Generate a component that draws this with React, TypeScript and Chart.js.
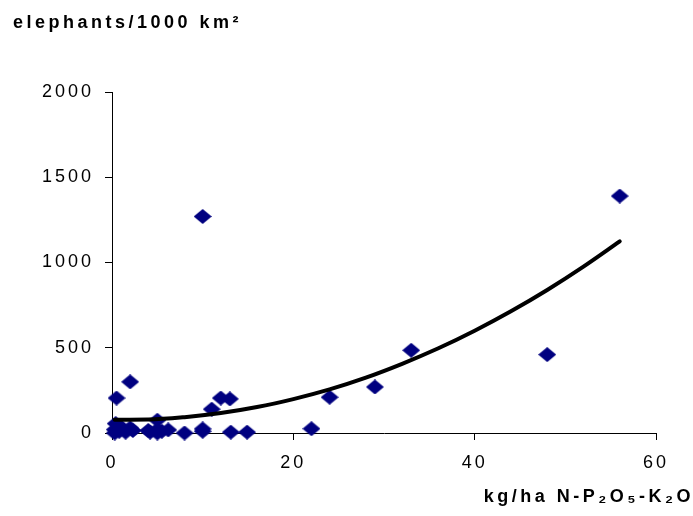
import React, { useEffect, useRef } from 'react';
import { Chart, registerables } from 'chart.js';

Chart.register(...registerables);

// ---- data ----
const xTickValues = [0, 20, 40, 60];
const yTickValues = [0, 500, 1000, 1500, 2000];

// fertilizer use (kg/ha N-P2O5-K2O)
const fertilizer = [
  0.3, 0.3, 0.4, 0.8, 1.0, 1.5, 2.0, 2.3,
  4.0, 4.2, 5.0, 5.0, 5.5, 6.2, 5.0,
  8.0, 10.0, 10.0, 13.1, 14.9,
  0.5, 2.0, 11.0, 12.0, 13.0,
  10.0, 22.0, 24.0, 29.0, 33.0, 48.0, 56.0,
];
// elephant density (elephants/1000 km2)
const elephants = [
  0, 20, 55, 10, 35, 5, 30, 15,
  15, 5, 0, 20, 10, 18, 75,
  0, 10, 24, 5, 5,
  205, 300, 140, 205, 200,
  1270, 25, 210, 270, 485, 460, 1390,
];

// trend curve
const trendX = [0.3, 4, 8, 12, 16, 20, 24, 28, 32, 36, 40, 44, 48, 52, 56];
const trendY = [78, 79, 93, 117, 152, 199, 256, 325, 406, 497, 600, 714, 839, 976, 1124];

const yTitle = 'elephants/1000 km²';
const xTitle = 'kg/ha N-P₂O₅-K₂O';

const FONT = "'Liberation Sans', Arial, 'DejaVu Sans', sans-serif";
const NAVY = '#000080';

function makeDiamond(w: number, h: number, color: string) {
  const c = document.createElement('canvas');
  c.width = w;
  c.height = h;
  const g = c.getContext('2d')!;
  g.fillStyle = color;
  g.beginPath();
  g.moveTo(w / 2, 0);
  g.lineTo(w, h / 2);
  g.lineTo(w / 2, h);
  g.lineTo(0, h / 2);
  g.closePath();
  g.fill();
  return c;
}

const spacingPlugin = {
  id: 'spacing',
  beforeLayout(chart: any) {
    chart.ctx.letterSpacing = '3px';
  },
  beforeDraw(chart: any) {
    chart.ctx.letterSpacing = '3px';
  },
};

const titlesPlugin = {
  id: 'axisTitles',
  afterDraw(chart: any) {
    const ctx = chart.ctx;
    const area = chart.chartArea;
    ctx.save();
    ctx.letterSpacing = '3.5px';
    ctx.fillStyle = '#000';
    ctx.font = `bold 18px ${FONT}`;
    ctx.textBaseline = 'alphabetic';
    ctx.textAlign = 'left';
    ctx.fillText(yTitle, area.left - 99, area.top - 64);
    ctx.textAlign = 'right';
    ctx.fillText(xTitle, area.right + 38, area.bottom + 69);
    ctx.restore();
  },
};

export default function App() {
  const ref = useRef<HTMLCanvasElement | null>(null);

  useEffect(() => {
    if (!ref.current) return;
    const diamond = makeDiamond(18, 15, NAVY);
    const points = fertilizer.map((x, i) => ({ x, y: elephants[i] }));
    const trend = trendX.map((x, i) => ({ x, y: trendY[i] }));

    const chart = new Chart(ref.current, {
      type: 'scatter',
      data: {
        datasets: [
          {
            label: 'trend',
            data: trend,
            showLine: true,
            borderColor: '#000',
            borderWidth: 4,
            borderCapStyle: 'round',
            cubicInterpolationMode: 'monotone',
            pointRadius: 0,
            order: 0,
            clip: false,
          } as any,
          {
            label: 'countries',
            data: points,
            pointStyle: diamond as any,
            pointRadius: 9,
            backgroundColor: NAVY,
            borderColor: NAVY,
            order: 1,
            clip: false,
          } as any,
        ],
      },
      options: {
        responsive: false,
        animation: false,
        events: [],
        layout: { padding: { top: 92, right: 37, left: 0, bottom: 0 } },
        plugins: {
          legend: { display: false },
          title: { display: false },
          tooltip: { enabled: false },
        },
        scales: {
          x: {
            type: 'linear',
            min: 0,
            max: 60,
            afterBuildTicks: (s: any) => {
              s.ticks = xTickValues.map((v) => ({ value: v }));
            },
            afterFit: (s: any) => {
              s.height = 83;
            },
            ticks: {
              color: '#000',
              padding: 12,
              maxRotation: 0,
              font: { size: 18, family: FONT },
              callback: (v: any) => String(v),
            },
            grid: {
              drawOnChartArea: false,
              drawTicks: true,
              tickLength: 7,
              color: '#000',
              lineWidth: 1,
            },
            border: { display: true, color: '#000', width: 1 },
          },
          y: {
            type: 'linear',
            min: 0,
            max: 2000,
            afterBuildTicks: (s: any) => {
              s.ticks = yTickValues.map((v) => ({ value: v }));
            },
            afterFit: (s: any) => {
              s.width = 112;
            },
            ticks: {
              color: '#000',
              padding: 11,
              font: { size: 18, family: FONT },
              callback: (v: any) => String(v),
            },
            grid: {
              drawOnChartArea: false,
              drawTicks: true,
              tickLength: 7,
              color: '#000',
              lineWidth: 1,
            },
            border: { display: true, color: '#000', width: 1 },
          },
        },
      } as any,
      plugins: [spacingPlugin, titlesPlugin],
    });
    return () => chart.destroy();
  }, []);

  return (
    <div style={{ position: 'absolute', left: 0, top: 0, width: 693, height: 516, background: '#fff' }}>
      <canvas ref={ref} width={693} height={516} style={{ display: 'block' }} />
    </div>
  );
}
